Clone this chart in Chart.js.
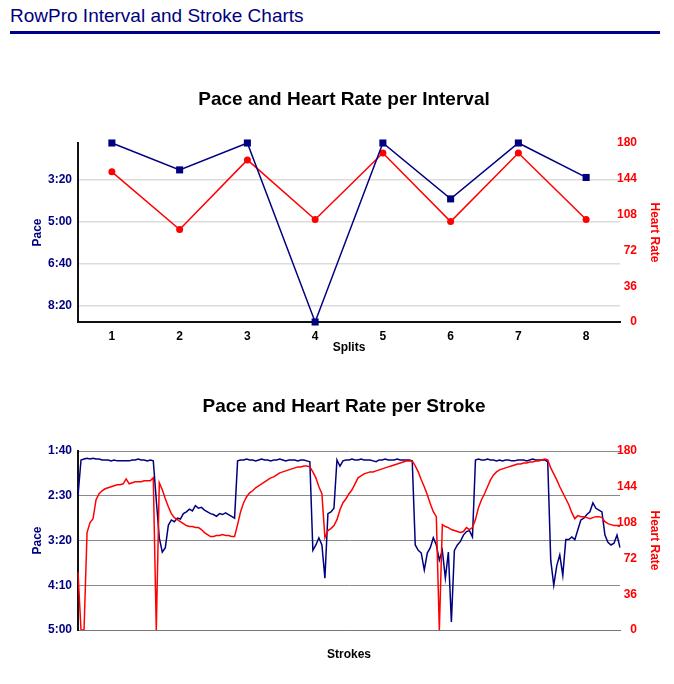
<!DOCTYPE html>
<html><head><meta charset="utf-8">
<script src="https://cdn.jsdelivr.net/npm/chart.js@4.4.0/dist/chart.umd.min.js"></script>
<style>
html,body{margin:0;padding:0;background:#fff;width:674px;height:684px;overflow:hidden;}
#hdr{position:absolute;left:10px;top:5px;font-family:"Liberation Sans",Arial,sans-serif;font-size:19px;color:#000080;white-space:nowrap;}
#rule{position:absolute;left:10px;top:31px;width:650px;height:3px;background:#00008b;}
canvas{position:absolute;left:0;}
#c1{top:80px;}
#c2{top:380px;}
</style></head><body>
<div id="hdr">RowPro Interval and Stroke Charts</div>
<div id="rule"></div>
<canvas id="c1" width="674" height="285"></canvas>
<canvas id="c2" width="674" height="294"></canvas>
<script>
// ---- Interval chart data ----
const splits = ['1','2','3','4','5','6','7','8'];
const paceInterval = [112,176,112,538,112,245,112,194];   // seconds per 500m
const hrInterval = [151,93,163,103,170,101,170,103];      // bpm
const paceTicksInterval = [200,300,400,500];
const hrTicks = [0,36,72,108,144,180];

// ---- Stroke chart data ----
const paceStroke = [
150,110,109,108,109,108,109,109,110,110,110,111,110,111,111,111,111,111,110,110,109,110,110,111,110,111,
155,197,213,208,183,177,179,175,176,170,168,165,167,161,164,163,166,168,170,171,173,170,171,169,171,173,175,
111,110,110,109,110,110,111,110,109,110,110,111,110,110,109,110,111,110,110,110,111,110,110,111,112,
211,205,197,205,242,170,168,164,110,117,111,
110,110,109,110,110,109,110,110,110,111,112,110,110,109,110,110,110,109,110,110,110,110,111,
205,211,214,233,214,208,197,205,222,211,242,213,291,211,205,201,194,190,189,196,
110,109,110,110,109,110,110,111,110,111,110,110,111,111,110,110,110,111,110,109,110,110,110,110,112,
222,250,228,216,239,199,199,196,199,188,177,175,171,168,158,164,166,168,194,202,205,203,194,208
];
const hrStroke = [
58,0,0,98,108,112,131,137,140,142,143,144,145,146,146,147,152,147,148,149,149,149,150,150,150,153,
0,148,141,132,124,117,113,111,109,107,105,104,104,103,103,101,98,96,94,94,95,95,96,95,95,94,94,
106,119,128,134,138,140,143,145,147,149,151,153,154,156,158,159,160,161,162,163,164,164,165,165,164,
159,153,144,137,93,100,102,105,111,121,128,
132,137,141,147,153,155,157,158,159,159,160,161,162,163,164,165,166,167,168,169,170,170,170,
165,159,151,144,136,127,119,114,0,106,104,103,101,100,99,98,99,103,101,103,
111,123,131,137,144,151,156,159,161,162,163,164,165,166,167,167,168,168,169,169,170,170,171,172,171,
163,157,151,144,138,132,126,118,112,115,114,114,113,112,113,114,114,113,109,107,106,105,105,104
];
const paceTicksStroke = [100,150,200,250,300];
const strokes = paceStroke.map((_, i) => String(i + 1));

const NAVY = '#000080', RED = '#ff0000';
Chart.defaults.font.family = '"Liberation Sans", Arial, sans-serif';
const fmtPace = v => Math.floor(v / 60) + ':' + String(Math.round(v % 60)).padStart(2, '0');

function paceAxis(ticksArr, min, max, gridColor, gridWidth) {
  return {
    position: 'left', reverse: true, min: min, max: max,
    afterFit: s => { s.width = 64; },
    afterBuildTicks: s => { s.ticks = ticksArr.map(v => ({ value: v })); },
    ticks: { color: NAVY, font: { size: 12, weight: 'bold' }, padding: 6, callback: v => fmtPace(v) },
    grid: { color: gridColor, lineWidth: gridWidth, drawTicks: false },
    border: { display: true, color: '#111', width: 2 },
    title: { display: true, text: 'Pace', color: NAVY, font: { size: 12, weight: 'bold' }, padding: { top: 16, bottom: 0 } }
  };
}
function hrAxis() {
  return {
    position: 'right', min: hrTicks[0], max: hrTicks[hrTicks.length - 1],
    afterFit: s => { s.width = 54; },
    afterBuildTicks: s => { s.ticks = hrTicks.map(v => ({ value: v })); },
    ticks: { color: RED, font: { size: 12, weight: 'bold' }, mirror: true, padding: 17, crossAlign: 'near' },
    grid: { display: false, drawTicks: false },
    border: { display: false },
    title: { display: true, text: 'Heart Rate', color: RED, font: { size: 12, weight: 'bold' }, padding: { top: 12, bottom: 0 } }
  };
}

new Chart(document.getElementById('c1'), {
  type: 'line',
  data: {
    labels: splits,
    datasets: [
      { label: 'Pace', data: paceInterval, yAxisID: 'y', borderColor: NAVY, backgroundColor: NAVY,
        borderWidth: 1.5, pointStyle: 'rect', pointRadius: 5, pointBorderWidth: 0, clip: false },
      { label: 'Heart Rate', data: hrInterval, yAxisID: 'y1', borderColor: RED, backgroundColor: RED,
        borderWidth: 1.5, pointStyle: 'circle', pointRadius: 3.5, pointBorderWidth: 0, clip: false }
    ]
  },
  options: {
    responsive: false, animation: false, maintainAspectRatio: false,
    layout: { padding: { left: 14, right: 0, top: 0, bottom: 0 } },
    plugins: {
      legend: { display: false }, tooltip: { enabled: false },
      title: { display: true, text: 'Pace and Heart Rate per Interval', color: '#000',
        font: { size: 19, weight: 'bold' }, padding: { top: 8.6, bottom: 31.6 } }
    },
    scales: {
      x: {
        offset: true, afterFit: s => { s.height = 43; },
        ticks: { color: '#000', font: { size: 12, weight: 'bold' }, padding: 7 },
        grid: { display: false, drawTicks: false },
        border: { display: true, color: '#111', width: 2 },
        title: { display: true, text: 'Splits', color: '#000', font: { size: 12, weight: 'bold' }, padding: { top: 0, bottom: 10 } }
      },
      y: paceAxis(paceTicksInterval, Math.min(...paceInterval), Math.max(...paceInterval), '#dcdcdc', 1.5),
      y1: hrAxis()
    }
  }
});

new Chart(document.getElementById('c2'), {
  type: 'line',
  data: {
    labels: strokes,
    datasets: [
      { label: 'Heart Rate', data: hrStroke, yAxisID: 'y1', borderColor: RED, borderWidth: 1.5, pointRadius: 0, tension: 0 },
      { label: 'Pace', data: paceStroke, yAxisID: 'y', borderColor: NAVY, borderWidth: 1.5, pointRadius: 0, tension: 0 }
    ]
  },
  options: {
    responsive: false, animation: false, maintainAspectRatio: false,
    layout: { padding: { left: 14, right: 0, top: 0, bottom: 0 } },
    plugins: {
      legend: { display: false }, tooltip: { enabled: false },
      title: { display: true, text: 'Pace and Heart Rate per Stroke', color: '#000',
        font: { size: 19, weight: 'bold' }, padding: { top: 15.6, bottom: 32.6 } }
    },
    scales: {
      x: {
        afterFit: s => { s.height = 44; },
        ticks: { display: false },
        grid: { display: false, drawTicks: false },
        border: { display: true, color: '#777', width: 1 },
        title: { display: true, text: 'Strokes', color: '#000', font: { size: 12, weight: 'bold' }, padding: { top: 0, bottom: 12 } }
      },
      y: paceAxis(paceTicksStroke, paceTicksStroke[0], paceTicksStroke[paceTicksStroke.length - 1], '#8a8a8a', 1),
      y1: hrAxis()
    }
  }
});
</script>
</body></html>
